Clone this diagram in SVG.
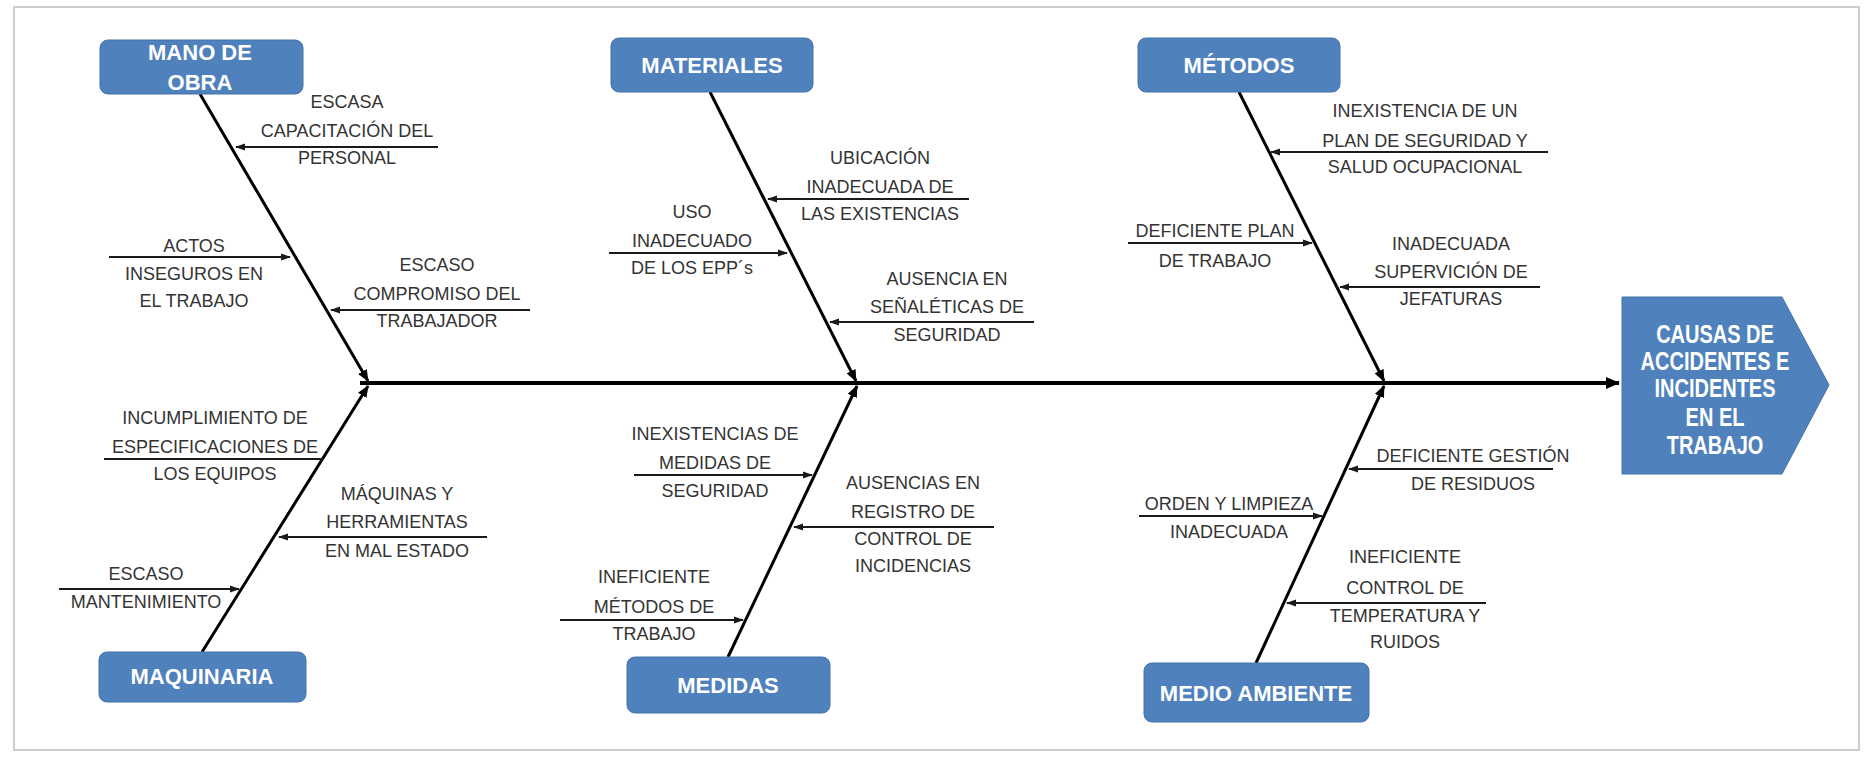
<svg xmlns="http://www.w3.org/2000/svg" width="1870" height="760" viewBox="0 0 1870 760">
  <style>
    .frame { fill: #ffffff; stroke: #cdcdcd; stroke-width: 2; }
    .cat rect, .cat path { fill: #4f81bd; stroke: #4472a8; stroke-width: 1; }
    .cat text { font-family: "Liberation Sans", Arial, sans-serif; font-weight: bold; font-size: 22px; fill: #ffffff; text-anchor: middle; }
    .head text { font-family: "Liberation Sans", Arial, sans-serif; font-weight: bold; font-size: 25px; fill: #ffffff; text-anchor: middle; }
    .cause text { font-family: "Liberation Sans", Arial, sans-serif; font-size: 18px; fill: #333333; text-anchor: middle; }
    .spine { stroke: #000000; stroke-width: 4; fill: none; }
    .bone { stroke: #000000; stroke-width: 3; fill: none; }
    .sub { stroke: #1a1a1a; stroke-width: 1.8; fill: none; }
  </style>
  <defs>
    <marker id="tipBig" markerUnits="userSpaceOnUse" markerWidth="14" markerHeight="14" refX="13" refY="7" orient="auto">
      <path d="M0,1 L14,7 L0,13 z" fill="#000000"/>
    </marker>
    <marker id="tipBone" markerUnits="userSpaceOnUse" markerWidth="12" markerHeight="10" refX="11" refY="5" orient="auto">
      <path d="M0,0 L12,5 L0,10 z" fill="#000000"/>
    </marker>
    <marker id="tipSmall" markerUnits="userSpaceOnUse" markerWidth="10" markerHeight="8" refX="9" refY="4" orient="auto">
      <path d="M0,0.5 L10,4 L0,7.5 z" fill="#1a1a1a"/>
    </marker>
  </defs>

  <!-- page frame -->
  <rect class="frame" x="14" y="7" width="1845" height="743"/>

  <!-- connectors: spine, category bones and cause arrows -->
  <g id="connectors">
    <line class="spine" x1="360" y1="383" x2="1619" y2="383" marker-end="url(#tipBig)"/>

    <line class="bone" x1="200" y1="94" x2="368" y2="381" marker-end="url(#tipBone)"/>
    <line class="bone" x1="202" y1="652" x2="368" y2="386" marker-end="url(#tipBone)"/>
    <line class="bone" x1="710" y1="92" x2="856" y2="381" marker-end="url(#tipBone)"/>
    <line class="bone" x1="728" y1="657" x2="857" y2="386" marker-end="url(#tipBone)"/>
    <line class="bone" x1="1239" y1="92" x2="1384" y2="381" marker-end="url(#tipBone)"/>
    <line class="bone" x1="1256" y1="663" x2="1384" y2="386" marker-end="url(#tipBone)"/>

    <line class="sub" x1="438" y1="147" x2="236" y2="147" marker-end="url(#tipSmall)"/>
    <line class="sub" x1="109" y1="257" x2="290" y2="257" marker-end="url(#tipSmall)"/>
    <line class="sub" x1="530" y1="310" x2="331" y2="310" marker-end="url(#tipSmall)"/>
    <line class="sub" x1="104" y1="459" x2="323" y2="459"/>
    <line class="sub" x1="487" y1="537" x2="279" y2="537" marker-end="url(#tipSmall)"/>
    <line class="sub" x1="59" y1="589" x2="239" y2="589" marker-end="url(#tipSmall)"/>

    <line class="sub" x1="969" y1="199" x2="768" y2="199" marker-end="url(#tipSmall)"/>
    <line class="sub" x1="609" y1="253" x2="787" y2="253" marker-end="url(#tipSmall)"/>
    <line class="sub" x1="1034" y1="322" x2="830" y2="322" marker-end="url(#tipSmall)"/>
    <line class="sub" x1="634" y1="475" x2="812" y2="475" marker-end="url(#tipSmall)"/>
    <line class="sub" x1="994" y1="527" x2="794" y2="527" marker-end="url(#tipSmall)"/>
    <line class="sub" x1="560" y1="620" x2="743" y2="620" marker-end="url(#tipSmall)"/>

    <line class="sub" x1="1548" y1="152" x2="1271" y2="152" marker-end="url(#tipSmall)"/>
    <line class="sub" x1="1128" y1="243" x2="1312" y2="243" marker-end="url(#tipSmall)"/>
    <line class="sub" x1="1540" y1="287" x2="1340" y2="287" marker-end="url(#tipSmall)"/>
    <line class="sub" x1="1553" y1="469" x2="1349" y2="469" marker-end="url(#tipSmall)"/>
    <line class="sub" x1="1139" y1="516" x2="1322" y2="516" marker-end="url(#tipSmall)"/>
    <line class="sub" x1="1486" y1="603" x2="1287" y2="603" marker-end="url(#tipSmall)"/>
  </g>

  <!-- effect head -->
  <g id="efecto" class="head">
    <path d="M1622,297 L1782,297 L1829,385 L1782,474 L1622,474 z" fill="#4f81bd" stroke="#4472a8" stroke-width="1"/>
    <g transform="translate(1715,0) scale(0.8,1)">
      <text x="0" y="343">CAUSAS DE</text>
      <text x="0" y="370">ACCIDENTES E</text>
      <text x="0" y="397">INCIDENTES</text>
      <text x="0" y="426">EN EL</text>
      <text x="0" y="454">TRABAJO</text>
    </g>
  </g>

  <!-- category boxes -->
  <g id="mano-de-obra" class="cat">
    <rect x="100" y="40" width="203" height="54" rx="8"/>
    <text x="200" y="60">MANO DE</text>
    <text x="200" y="90">OBRA</text>
  </g>
  <g id="materiales" class="cat">
    <rect x="611" y="38" width="202" height="54" rx="8"/>
    <text x="712" y="73">MATERIALES</text>
  </g>
  <g id="metodos" class="cat">
    <rect x="1138" y="38" width="202" height="54" rx="8"/>
    <text x="1239" y="73">MÉTODOS</text>
  </g>
  <g id="maquinaria" class="cat">
    <rect x="99" y="652" width="207" height="50" rx="8"/>
    <text x="202" y="684">MAQUINARIA</text>
  </g>
  <g id="medidas" class="cat">
    <rect x="627" y="657" width="203" height="56" rx="8"/>
    <text x="728" y="693">MEDIDAS</text>
  </g>
  <g id="medio-ambiente" class="cat">
    <rect x="1144" y="663" width="225" height="59" rx="8"/>
    <text x="1256" y="701">MEDIO AMBIENTE</text>
  </g>

  <!-- cause labels -->
  <g id="c-capacitacion" class="cause">
    <text x="347" y="108">ESCASA</text>
    <text x="347" y="137">CAPACITACIÓN DEL</text>
    <text x="347" y="164">PERSONAL</text>
  </g>
  <g id="c-actos" class="cause">
    <text x="194" y="252">ACTOS</text>
    <text x="194" y="280">INSEGUROS EN</text>
    <text x="194" y="307">EL TRABAJO</text>
  </g>
  <g id="c-compromiso" class="cause">
    <text x="437" y="271">ESCASO</text>
    <text x="437" y="300">COMPROMISO DEL</text>
    <text x="437" y="327">TRABAJADOR</text>
  </g>
  <g id="c-especificaciones" class="cause">
    <text x="215" y="424">INCUMPLIMIENTO DE</text>
    <text x="215" y="453">ESPECIFICACIONES DE</text>
    <text x="215" y="480">LOS EQUIPOS</text>
  </g>
  <g id="c-maquinas" class="cause">
    <text x="397" y="500">MÁQUINAS Y</text>
    <text x="397" y="528">HERRAMIENTAS</text>
    <text x="397" y="557">EN MAL ESTADO</text>
  </g>
  <g id="c-mantenimiento" class="cause">
    <text x="146" y="580">ESCASO</text>
    <text x="146" y="608">MANTENIMIENTO</text>
  </g>
  <g id="c-ubicacion" class="cause">
    <text x="880" y="164">UBICACIÓN</text>
    <text x="880" y="193">INADECUADA DE</text>
    <text x="880" y="220">LAS EXISTENCIAS</text>
  </g>
  <g id="c-epp" class="cause">
    <text x="692" y="218">USO</text>
    <text x="692" y="247">INADECUADO</text>
    <text x="692" y="274">DE LOS EPP´s</text>
  </g>
  <g id="c-senaleticas" class="cause">
    <text x="947" y="285">AUSENCIA EN</text>
    <text x="947" y="313">SEÑALÉTICAS DE</text>
    <text x="947" y="341">SEGURIDAD</text>
  </g>
  <g id="c-medidas-seg" class="cause">
    <text x="715" y="440">INEXISTENCIAS DE</text>
    <text x="715" y="469">MEDIDAS DE</text>
    <text x="715" y="497">SEGURIDAD</text>
  </g>
  <g id="c-registro" class="cause">
    <text x="913" y="489">AUSENCIAS EN</text>
    <text x="913" y="518">REGISTRO DE</text>
    <text x="913" y="545">CONTROL DE</text>
    <text x="913" y="572">INCIDENCIAS</text>
  </g>
  <g id="c-metodos-trabajo" class="cause">
    <text x="654" y="583">INEFICIENTE</text>
    <text x="654" y="613">MÉTODOS DE</text>
    <text x="654" y="640">TRABAJO</text>
  </g>
  <g id="c-plan-seguridad" class="cause">
    <text x="1425" y="117">INEXISTENCIA DE UN</text>
    <text x="1425" y="147">PLAN DE SEGURIDAD Y</text>
    <text x="1425" y="173">SALUD OCUPACIONAL</text>
  </g>
  <g id="c-plan-trabajo" class="cause">
    <text x="1215" y="237">DEFICIENTE PLAN</text>
    <text x="1215" y="267">DE TRABAJO</text>
  </g>
  <g id="c-supervision" class="cause">
    <text x="1451" y="250">INADECUADA</text>
    <text x="1451" y="278">SUPERVICIÓN DE</text>
    <text x="1451" y="305">JEFATURAS</text>
  </g>
  <g id="c-residuos" class="cause">
    <text x="1473" y="462">DEFICIENTE GESTIÓN</text>
    <text x="1473" y="490">DE RESIDUOS</text>
  </g>
  <g id="c-limpieza" class="cause">
    <text x="1229" y="510">ORDEN Y LIMPIEZA</text>
    <text x="1229" y="538">INADECUADA</text>
  </g>
  <g id="c-temperatura" class="cause">
    <text x="1405" y="563">INEFICIENTE</text>
    <text x="1405" y="594">CONTROL DE</text>
    <text x="1405" y="622">TEMPERATURA Y</text>
    <text x="1405" y="648">RUIDOS</text>
  </g>
</svg>
